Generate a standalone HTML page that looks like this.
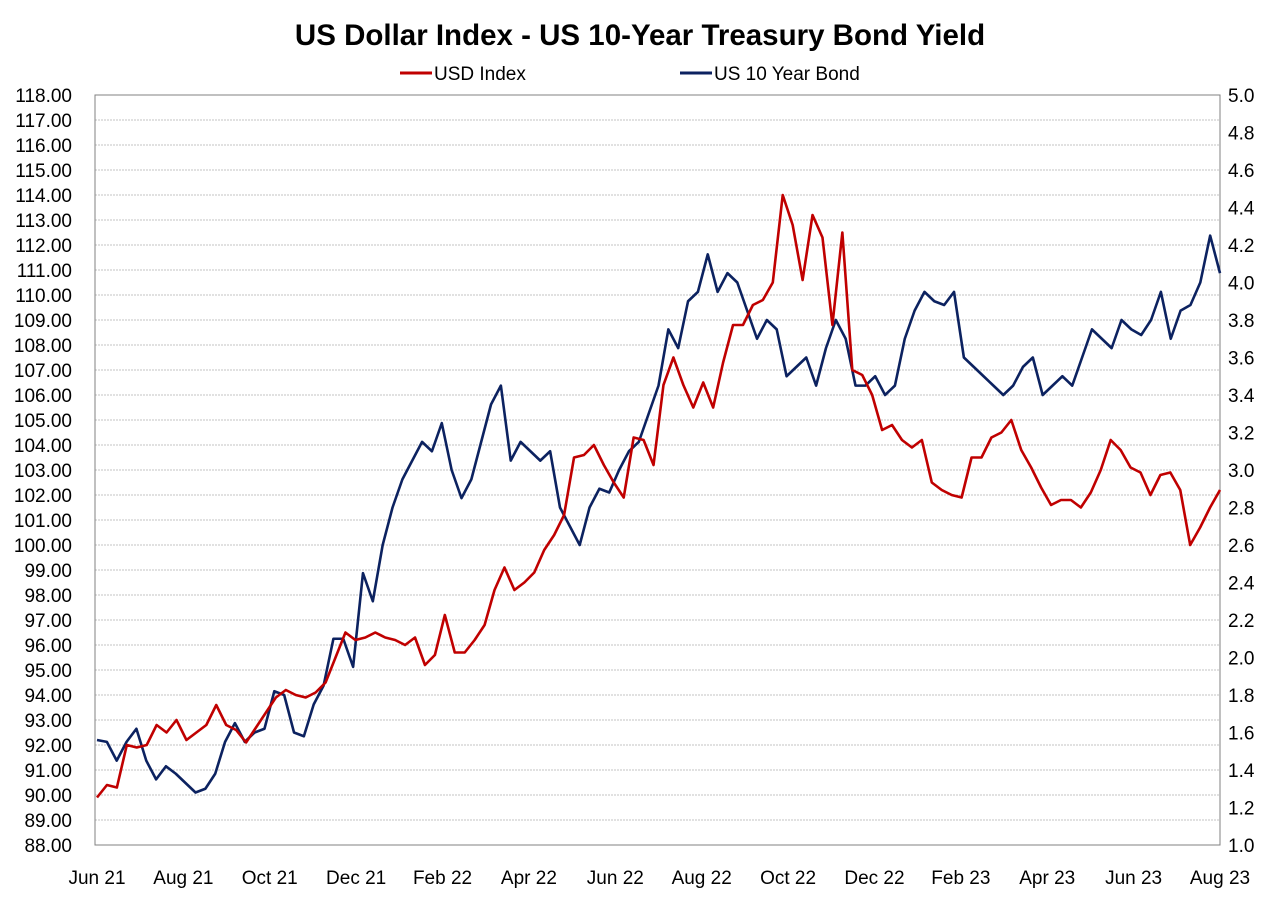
<!DOCTYPE html>
<html><head><meta charset="utf-8"><style>
body{margin:0;background:#fff;}
svg text{font-family:"Liberation Sans",sans-serif;fill:#000;}
</style></head><body>
<svg id="c" width="1280" height="895">
<text x="640" y="45" text-anchor="middle" font-size="29.5" font-weight="bold">US Dollar Index - US 10-Year Treasury Bond Yield</text>
<g>
<line x1="400" y1="73" x2="432" y2="73" stroke="#c00000" stroke-width="3"/>
<text x="434" y="80" font-size="19">USD Index</text>
<line x1="680" y1="73" x2="712" y2="73" stroke="#0c2260" stroke-width="3"/>
<text x="714" y="80" font-size="19">US 10 Year Bond</text>
</g>
<g id="grid"></g><g id="axes"></g><g id="series"></g>
</svg>
<script>
const xLabels=["Jun 21","Aug 21","Oct 21","Dec 21","Feb 22","Apr 22","Jun 22","Aug 22","Oct 22","Dec 22","Feb 23","Apr 23","Jun 23","Aug 23"];
const leftTicks=[88,89,90,91,92,93,94,95,96,97,98,99,100,101,102,103,104,105,106,107,108,109,110,111,112,113,114,115,116,117,118];
const rightTicks=[1.0,1.2,1.4,1.6,1.8,2.0,2.2,2.4,2.6,2.8,3.0,3.2,3.4,3.6,3.8,4.0,4.2,4.4,4.6,4.8,5.0];
const usd=[89.9,90.4,90.3,92.0,91.9,92.0,92.8,92.5,93.0,92.2,92.5,92.8,93.6,92.8,92.6,92.1,92.7,93.3,93.9,94.2,94.0,93.9,94.1,94.5,95.5,96.5,96.2,96.3,96.5,96.3,96.2,96.0,96.3,95.2,95.6,97.2,95.7,95.7,96.2,96.8,98.2,99.1,98.2,98.5,98.9,99.8,100.4,101.2,103.5,103.6,104.0,103.2,102.5,101.9,104.3,104.2,103.2,106.4,107.5,106.4,105.5,106.5,105.5,107.3,108.8,108.8,109.6,109.8,110.5,114.0,112.8,110.6,113.2,112.3,108.8,112.5,107.0,106.8,106.0,104.6,104.8,104.2,103.9,104.2,102.5,102.2,102.0,101.9,103.5,103.5,104.3,104.5,105.0,103.8,103.1,102.3,101.6,101.8,101.8,101.5,102.1,103.0,104.2,103.8,103.1,102.9,102.0,102.8,102.9,102.2,100.0,100.7,101.5,102.2];
const bond=[1.56,1.55,1.45,1.55,1.62,1.45,1.35,1.42,1.38,1.33,1.28,1.30,1.38,1.55,1.65,1.55,1.60,1.62,1.82,1.80,1.60,1.58,1.75,1.85,2.10,2.10,1.95,2.45,2.30,2.60,2.80,2.95,3.05,3.15,3.10,3.25,3.00,2.85,2.95,3.15,3.35,3.45,3.05,3.15,3.10,3.05,3.10,2.80,2.70,2.60,2.80,2.90,2.88,3.00,3.10,3.15,3.30,3.45,3.75,3.65,3.90,3.95,4.15,3.95,4.05,4.00,3.85,3.70,3.80,3.75,3.50,3.55,3.60,3.45,3.65,3.80,3.70,3.45,3.45,3.50,3.40,3.45,3.70,3.85,3.95,3.90,3.88,3.95,3.60,3.55,3.50,3.45,3.40,3.45,3.55,3.60,3.40,3.45,3.50,3.45,3.60,3.75,3.70,3.65,3.80,3.75,3.72,3.80,3.95,3.70,3.85,3.88,4.00,4.25,4.05];
const NS="http://www.w3.org/2000/svg";
const L=95,R=1220,T=95,B=845;
const yL=v=>B-(v-88)/30*(B-T);
const yR=v=>B-(v-1)/4*(B-T);
const xI=(i,n)=>97+i*(R-97)/(n-1);
function mk(tag,attrs,parent){const e=document.createElementNS(NS,tag);for(const k in attrs)e.setAttribute(k,attrs[k]);parent.appendChild(e);return e;}
const grid=document.getElementById('grid'),axes=document.getElementById('axes'),series=document.getElementById('series');
leftTicks.forEach(v=>{
 const g=mk('line',{x1:L,x2:R,y1:yL(v),y2:yL(v),stroke:'#b0b0b0','stroke-width':0.8,'stroke-dasharray':'2,1'},grid);
 
 
 const t=mk('text',{x:L-23,y:yL(v)+7,'font-size':19,'text-anchor':'end'},axes);
 t.textContent=v.toFixed(2);
 
 
});
rightTicks.forEach(v=>{
 const t=mk('text',{x:1228,y:yR(v)+7,'font-size':19},axes);
 t.textContent=v.toFixed(1);
 
 
});
xLabels.forEach((s,i)=>{
 const x=97+i*(R-97)/(xLabels.length-1);
 const t=mk('text',{x:x,y:884,'font-size':19,'text-anchor':'middle'},axes);
 t.textContent=s;
 
 
});
const frame=mk('rect',{x:L,y:T,width:R-L,height:B-T,fill:'none',stroke:'#808080','stroke-width':1},axes);


const pb=mk('polyline',{points:bond.map((v,i)=>xI(i,bond.length)+','+yR(v)).join(' '),fill:'none',stroke:'#0c2260','stroke-width':2.6,'stroke-linejoin':'round'},series);


const pu=mk('polyline',{points:usd.map((v,i)=>xI(i,usd.length)+','+yL(v)).join(' '),fill:'none',stroke:'#c00000','stroke-width':2.6,'stroke-linejoin':'round'},series);


</script>
</body></html>
